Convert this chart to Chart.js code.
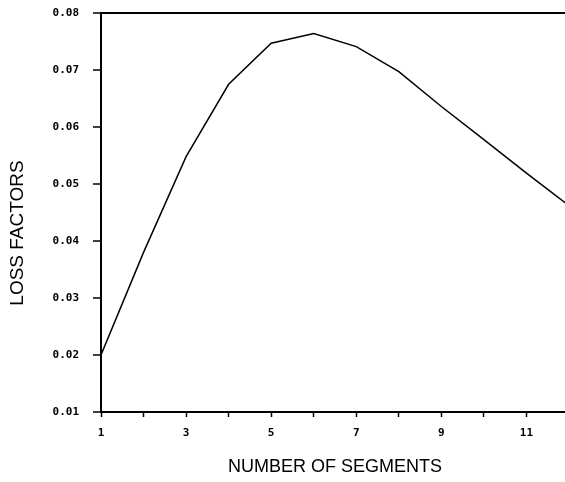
<!DOCTYPE html>
<html>
<head>
<meta charset="utf-8">
<script src="https://cdn.jsdelivr.net/npm/chart.js@4"></script>
<style>
  html, body { margin: 0; padding: 0; background: #fff; overflow: hidden; }
  #wrap { width: 569px; height: 482px; }
</style>
</head>
<body>
<div id="wrap"><canvas id="lossChart" width="569" height="482"></canvas></div>
<script>
// values
var segments = [1, 2, 3, 4, 5, 6, 7, 8, 9, 10, 11, 12];
var lossFactors = [0.0200, 0.0380, 0.0548, 0.0675, 0.0747, 0.0764, 0.0741, 0.0697, 0.0636, 0.0578, 0.0519, 0.0462];
var xTickLabels = [1, 3, 5, 7, 9, 11];
var yTickValues = [0.01, 0.02, 0.03, 0.04, 0.05, 0.06, 0.07, 0.08];

var monoFont = { family: 'DejaVu Sans Mono', size: 11, weight: 'bold' };
var titleFont = { family: 'Liberation Sans', size: 18 };

// y axis title drawn by hand so it sits where the original has it
var yTitlePlugin = {
    id: 'yTitle',
    afterDraw: function (chart) {
        var c = chart.ctx;
        c.save();
        c.translate(18, 233);
        c.rotate(-Math.PI / 2);
        c.fillStyle = '#000';
        c.font = '19px "Liberation Sans"';
        c.textAlign = 'center';
        c.textBaseline = 'middle';
        c.fillText('LOSS FACTORS', 0, 0);
        c.restore();
    }
};

var ctx = document.getElementById('lossChart').getContext('2d');

var chartData = {
    datasets: [{
        label: 'Loss factors',
        data: segments.map(function (s, i) { return { x: s, y: lossFactors[i] }; }),
        borderColor: '#000',
        borderWidth: 1.5,
        pointRadius: 0,
        fill: false,
        tension: 0
    }]
};

var chartOptions = {
    responsive: false,
    animation: false,
    layout: { padding: { top: 13, right: 0, left: 0, bottom: 0 } },
    plugins: { legend: { display: false }, tooltip: { enabled: false } },
    scales: {
        x: {
            type: 'linear',
            min: 1,
            max: 12,
            afterFit: function (scale) {
                scale.height = 70;
                scale.paddingLeft = 0;
                scale.paddingRight = 0;
            },
            border: { display: true, color: '#000', width: 2 },
            grid: { drawOnChartArea: false, drawTicks: true, tickLength: 5, tickColor: '#000', tickWidth: 1.5 },
            ticks: {
                stepSize: 1,
                autoSkip: false,
                maxRotation: 0,
                color: '#000',
                font: monoFont,
                padding: 10,
                callback: function (v) { return xTickLabels.indexOf(v) >= 0 ? String(v) : ''; }
            },
            title: {
                display: true,
                text: 'NUMBER OF SEGMENTS',
                color: '#000',
                font: titleFont,
                padding: { top: 0, bottom: 4 }
            }
        },
        y: {
            min: 0.01,
            max: 0.08,
            afterFit: function (scale) {
                scale.width = 101;
                scale.paddingTop = 0;
                scale.paddingBottom = 0;
            },
            afterBuildTicks: function (scale) {
                scale.ticks = yTickValues.map(function (v) { return { value: v }; });
            },
            border: { display: true, color: '#000', width: 2 },
            grid: {
                drawOnChartArea: true,
                drawTicks: true,
                tickLength: 8,
                tickColor: '#000',
                tickWidth: 1.5,
                lineWidth: 2,
                color: function (c) {
                    return (c.tick && Math.abs(c.tick.value - 0.08) < 1e-9) ? '#000' : 'rgba(0,0,0,0)';
                }
            },
            ticks: {
                color: '#000',
                font: monoFont,
                padding: 14,
                callback: function (v) { return Number(v).toFixed(2); }
            },
            title: { display: false }
        }
    }
};

var lossChart = new Chart(ctx, {
    type: 'line',
    data: chartData,
    options: chartOptions,
    plugins: [yTitlePlugin]
});
</script>
</body>
</html>
